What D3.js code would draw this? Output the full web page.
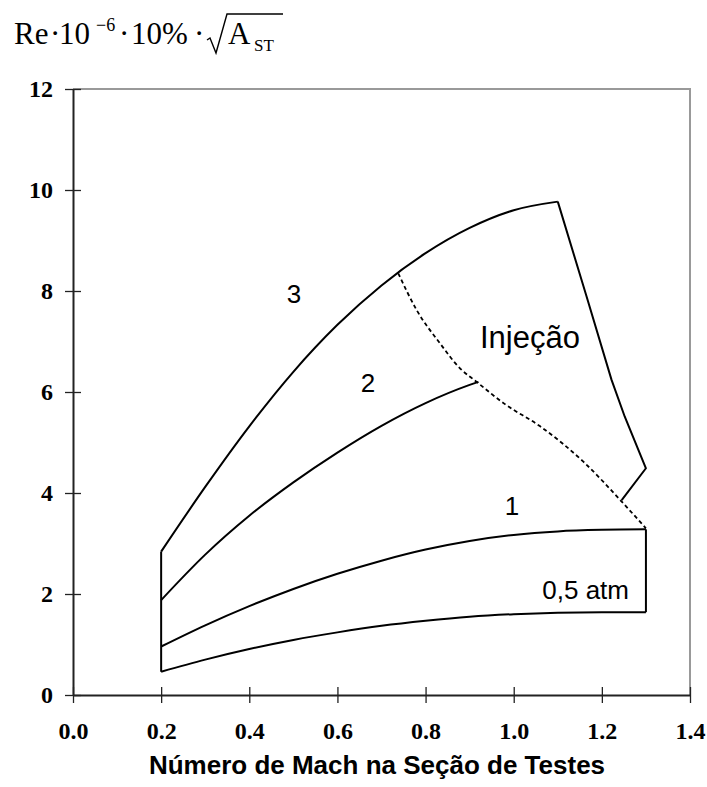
<!DOCTYPE html>
<html>
<head>
<meta charset="utf-8">
<script src="https://cdn.jsdelivr.net/npm/d3@7"></script>
<style>
  body { margin: 0; background: #fff; }
  svg { display: block; }
</style>
</head>
<body>
<svg id="chart"></svg>
<script>
const width = 707;
const height = 787;

// tick labels
const xTicks = [0, 0.2, 0.4, 0.6, 0.8, 1.0, 1.2, 1.4];
const yTicks = [0, 2, 4, 6, 8, 10, 12];

// 0,5 atm and 1 atm curves
const mach = [0.2, 0.3, 0.4, 0.5, 0.6, 0.7, 0.8, 0.9, 1.0, 1.1, 1.2, 1.3];
const curve05 = [0.46, 0.70, 0.91, 1.09, 1.24, 1.37, 1.47, 1.55, 1.60, 1.63, 1.64, 1.64];
const curve1 = [0.96, 1.38, 1.76, 2.10, 2.40, 2.66, 2.88, 3.05, 3.17, 3.24, 3.27, 3.28];

// 2 atm curve
const mach2 = [0.2, 0.3, 0.4, 0.5, 0.6, 0.7, 0.8, 0.9, 0.92];
const curve2 = [1.88, 2.78, 3.55, 4.21, 4.80, 5.33, 5.78, 6.14, 6.2];

// 3 atm curve
const mach3 = [0.2, 0.3, 0.4, 0.5, 0.6, 0.7, 0.8, 0.9, 1.0, 1.1];
const curve3 = [2.84, 4.12, 5.32, 6.40, 7.33, 8.11, 8.75, 9.25, 9.60, 9.77];

// injection limit (solid)
const injMach = [1.1, 1.165, 1.222, 1.252, 1.3, 1.245];
const injVal = [9.77, 7.9, 6.24, 5.51, 4.49, 3.86];

// dashed boundary
const dashMach = [0.738, 0.78, 0.833, 0.878, 0.916, 0.98, 1.06, 1.158, 1.245, 1.3];
const dashVal = [8.35, 7.62, 6.96, 6.47, 6.2, 5.76, 5.32, 4.62, 3.83, 3.3];

const svg = d3.select('#chart')
  .attr('width', width)
  .attr('height', height);

const xScale = d3.scaleLinear().domain([0, 1.4]).range([73, 690]);
const yScale = d3.scaleLinear().domain([0, 12]).range([695, 89]);

// grey frame top / right
svg.append('path')
  .attr('d', `M${xScale(0)},${yScale(12)}H${xScale(1.4)}V${yScale(0)}`)
  .attr('fill', 'none')
  .attr('stroke', '#999')
  .attr('stroke-width', 2);

// Bottom axis
const gx = svg.append('g')
  .attr('transform', `translate(0, ${yScale(0)})`)
  .call(d3.axisBottom(xScale)
    .tickValues(xTicks)
    .tickFormat(d3.format('.1f'))
    .tickSizeInner(8)
    .tickSizeOuter(0)
    .tickPadding(19));

// Left axis
const gy = svg.append('g')
  .attr('transform', `translate(${xScale(0)}, 0)`)
  .call(d3.axisLeft(yScale)
    .tickValues(yTicks)
    .tickSizeInner(8)
    .tickSizeOuter(0)
    .tickPadding(12));

gx.selectAll('.tick line').attr('y1', -8);
gy.selectAll('.tick line').attr('x1', 8);

[gx, gy].forEach((g) => {
  g.select('.domain').attr('stroke', '#222').attr('stroke-width', 2);
  g.selectAll('.tick line').attr('stroke', '#222').attr('stroke-width', 1.3);
  g.selectAll('.tick text')
    .attr('fill', '#000')
    .style('font-family', '"Liberation Serif", "Times New Roman", serif')
    .style('font-weight', 'bold')
    .style('font-size', '24px');
});

const smooth = d3.line()
  .x((d) => xScale(d[0]))
  .y((d) => yScale(d[1]))
  .curve(d3.curveMonotoneX);

const straight = d3.line()
  .x((d) => xScale(d[0]))
  .y((d) => yScale(d[1]));

const lines = svg.append('g')
  .attr('fill', 'none')
  .attr('stroke', '#000')
  .attr('stroke-width', 2)
  .attr('stroke-linejoin', 'round');

const zip = (xs, ys) => xs.map((m, i) => [m, ys[i]]);

lines.append('path').attr('d', smooth(zip(mach, curve05)));
lines.append('path').attr('d', smooth(zip(mach, curve1)));
lines.append('path').attr('d', smooth(zip(mach2, curve2)));
lines.append('path').attr('d', smooth(zip(mach3, curve3)));

// left and right edges of the envelope
lines.append('path').attr('d', straight([[mach[0], curve05[0]], [mach3[0], curve3[0]]]));
lines.append('path').attr('d', straight([
  [mach[mach.length - 1], curve05[curve05.length - 1]],
  [mach[mach.length - 1], curve1[curve1.length - 1]]
]));

lines.append('path').attr('d', straight(zip(injMach, injVal)));

lines.append('path')
  .attr('d', smooth(zip(dashMach, dashVal)))
  .attr('stroke-width', 1.8)
  .attr('stroke-dasharray', '4,3');

// curve labels
const sans = '"Liberation Sans", Arial, sans-serif';
const labels = [
  {text: '3', x: 294, y: 303, size: 26, anchor: 'middle'},
  {text: '2', x: 368, y: 392, size: 26, anchor: 'middle'},
  {text: '1', x: 512, y: 515, size: 26, anchor: 'middle'},
  {text: '0,5 atm', x: 629, y: 599, size: 26, anchor: 'end'},
  {text: 'Injeção', x: 480, y: 348, size: 31, anchor: 'start'}
];
svg.selectAll('text.lbl')
  .data(labels)
  .enter()
  .append('text')
  .attr('class', 'lbl')
  .attr('x', (d) => d.x)
  .attr('y', (d) => d.y)
  .attr('text-anchor', (d) => d.anchor)
  .style('font-family', sans)
  .style('font-size', (d) => `${d.size}px`)
  .text((d) => d.text);

// x axis title
svg.append('text')
  .attr('x', 377)
  .attr('y', 774)
  .attr('text-anchor', 'middle')
  .style('font-family', sans)
  .style('font-weight', 'bold')
  .style('font-size', '26px')
  .text('Número de Mach na Seção de Testes');

// y axis title: Re·10^-6 ·10% ·sqrt(A_ST)
const serif = '"Liberation Serif", "Times New Roman", serif';
const title = svg.append('g').style('font-family', serif);
const part = (txt, x, y, size) => title.append('text')
  .attr('x', x).attr('y', y)
  .style('font-size', `${size}px`)
  .text(txt);

part('Re', 14, 44, 31);
part('·', 50, 44, 31);
part('10', 59, 44, 31);
part('−6', 96, 31, 18);
part('·', 119, 44, 31);
part('10%', 131, 44, 31);
part('·', 194, 44, 31);
part('A', 228, 44, 31);
part('ST', 254, 51, 17);

title.append('path')
  .attr('d', 'M207,40 L210,38 L216,53 L227,14 H283')
  .attr('fill', 'none')
  .attr('stroke', '#000')
  .attr('stroke-width', 1.4);
</script>
</body>
</html>
